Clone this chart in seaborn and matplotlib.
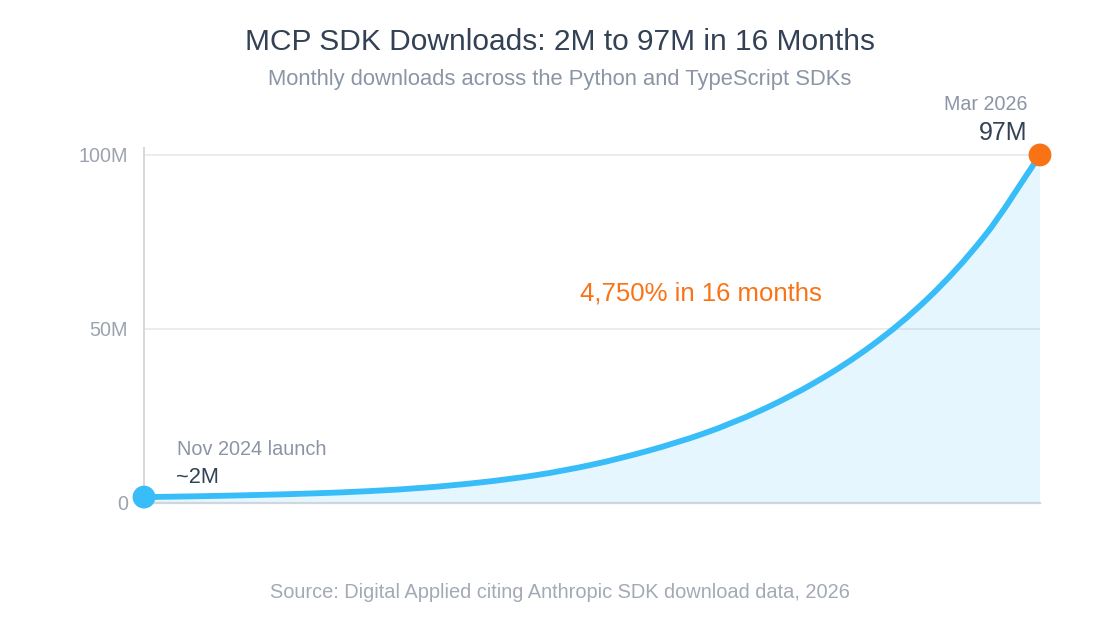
import matplotlib
matplotlib.use("Agg")
import matplotlib.pyplot as plt
from matplotlib.path import Path
from matplotlib.patches import PathPatch
import seaborn as sns
import pandas as pd
import numpy as np

# ---- data ----
months = ["Nov 2024", "Dec 2024", "Jan 2025", "Feb 2025", "Mar 2025", "Apr 2025",
          "May 2025", "Jun 2025", "Jul 2025", "Aug 2025", "Sep 2025", "Oct 2025",
          "Nov 2025", "Dec 2025", "Jan 2026", "Feb 2026", "Mar 2026"]
downloads_m = [1.7, 1.95, 2.3, 2.75, 3.4, 4.4, 5.9, 8.0, 11.0, 15.0, 20.0, 26.5,
               34.8, 45.3, 58.8, 76.5, 100.0]
y_ticks = [0, 50, 100]
y_tick_labels = ["0", "50M", "100M"]

title = "MCP SDK Downloads: 2M to 97M in 16 Months"
subtitle = "Monthly downloads across the Python and TypeScript SDKs"
source = "Source: Digital Applied citing Anthropic SDK download data, 2026"
start_label, start_value = "Nov 2024 launch", "~2M"
end_label, end_value = "Mar 2026", "97M"
growth_note = "4,750% in 16 months"

df = pd.DataFrame({"month": months, "idx": np.arange(len(months), dtype=float),
                   "downloads": downloads_m})

sns.set_theme(style="white")
plt.rcParams["font.family"] = ["Liberation Sans", "DejaVu Sans"]

BLUE = "#38bdf8"
ORANGE = "#f97316"
DARK = "#334155"
GRAY = "#8b95a5"


def monotone_bezier(xs, ys):
    """Smooth monotone cubic path (Fritsch-Carlson) through the data points."""
    xs = np.asarray(xs, float)
    ys = np.asarray(ys, float)
    h = np.diff(xs)
    d = np.diff(ys) / h
    m = np.zeros_like(ys)
    m[0], m[-1] = d[0], d[-1]
    for k in range(1, len(ys) - 1):
        if d[k - 1] * d[k] <= 0:
            m[k] = 0
        else:
            w1 = 2 * h[k] + h[k - 1]
            w2 = h[k] + 2 * h[k - 1]
            m[k] = (w1 + w2) / (w1 / d[k - 1] + w2 / d[k])
    verts = [(xs[0], ys[0])]
    codes = [Path.MOVETO]
    for k in range(len(xs) - 1):
        verts += [(xs[k] + h[k] / 3, ys[k] + m[k] * h[k] / 3),
                  (xs[k + 1] - h[k] / 3, ys[k + 1] - m[k + 1] * h[k] / 3),
                  (xs[k + 1], ys[k + 1])]
        codes += [Path.CURVE4] * 3
    return verts, codes


fig = plt.figure(figsize=(11.2, 6.4), dpi=100)
ax = fig.add_axes([144 / 1120, (640 - 503) / 640, 896 / 1120, (503 - 148) / 640])

verts, codes = monotone_bezier(df["idx"], df["downloads"])
fill_path = Path(verts + [(df["idx"].iloc[-1], 0), (df["idx"].iloc[0], 0), verts[0]],
                 codes + [Path.LINETO, Path.LINETO, Path.CLOSEPOLY])
ax.add_patch(PathPatch(fill_path, facecolor=BLUE, alpha=0.13, linewidth=0, zorder=1))
ax.add_patch(PathPatch(Path(verts, codes), facecolor="none", edgecolor=BLUE,
                       linewidth=4.2, capstyle="round", joinstyle="round", zorder=3))

ends = df.iloc[[0, -1]].assign(kind=["start", "end"])
sns.scatterplot(data=ends, x="idx", y="downloads", hue="kind",
                palette={"start": BLUE, "end": ORANGE}, s=270, linewidth=0,
                legend=False, ax=ax, zorder=5, clip_on=False)

first = df.iloc[0]
last = df.iloc[-1]

ax.set_xlim(0, len(months) - 1)
ax.set_ylim(0, 102)
ax.set_yticks(y_ticks)
ax.set_yticklabels(y_tick_labels)
ax.set_xticks([])
ax.set_xlabel("")
ax.set_ylabel("")
ax.tick_params(axis="y", length=0, pad=11.5, labelsize=14.2, labelcolor="#9ca3af")
for v in y_ticks[1:]:
    ax.axhline(v, color="#ececef", linewidth=1.4, zorder=0)

for s in ["top", "right"]:
    ax.spines[s].set_visible(False)
ax.spines["left"].set_color("#d4d8de")
ax.spines["left"].set_linewidth(1.4)
ax.spines["bottom"].set_color("#cfd6de")
ax.spines["bottom"].set_linewidth(1.6)

# annotations (pixel offsets from the data points)
ax.annotate(start_label, (first["idx"], first["downloads"]), xytext=(33, 48),
            textcoords="offset pixels", ha="left", va="center", fontsize=14.3, color=GRAY)
ax.annotate(start_value, (first["idx"], first["downloads"]), xytext=(32, 20),
            textcoords="offset pixels", ha="left", va="center", fontsize=15.7, color=DARK)
ax.annotate(end_label, (last["idx"], last["downloads"]), xytext=(-13, 50),
            textcoords="offset pixels", ha="right", va="center", fontsize=14.1, color=GRAY)
ax.annotate(end_value, (last["idx"], last["downloads"]), xytext=(-13, 22),
            textcoords="offset pixels", ha="right", va="center", fontsize=18, color=DARK)

fig.text(701 / 1120, 1 - 293 / 640, growth_note, ha="center", va="center",
         fontsize=18.5, color=ORANGE)

fig.text(0.5, 1 - 42 / 640, title, ha="center", va="center", fontsize=21.5, color=DARK)
fig.text(0.5, 1 - 80 / 640, subtitle, ha="center", va="center", fontsize=15.8, color=GRAY)
fig.text(0.5, 1 - 593 / 640, source, ha="center", va="center", fontsize=14.4, color="#a3aab6")

fig.savefig("out.png", dpi=100, facecolor="white")
